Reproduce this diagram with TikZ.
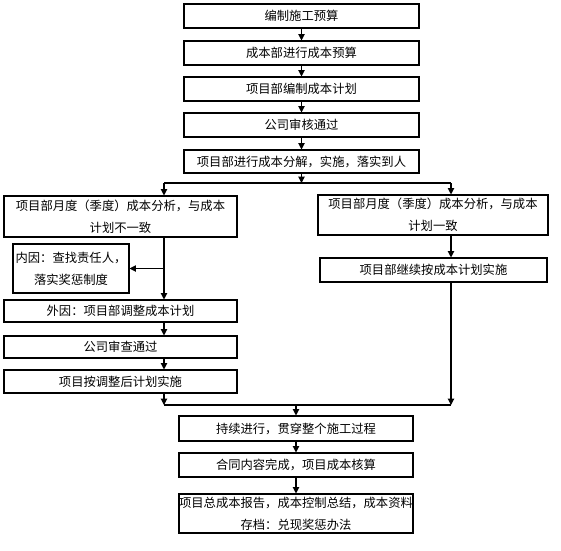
\documentclass[tikz,border=0pt]{standalone}
\usepackage{fontspec}
\newfontfamily\cjk{Noto Sans CJK SC}
\usetikzlibrary{arrows.meta, positioning, calc}

\begin{document}
\begin{tikzpicture}[
    x=0.03cm, y=-0.03cm,
    box/.style={draw, line width=0.9pt, fill=white, inner sep=1pt,
                minimum width=7.05cm, minimum height=0.72cm, align=center,
                font=\cjk\fontsize{10.5}{19}\selectfont},
    arr/.style={-{Triangle[length=5.5pt, width=5.5pt]}, line width=0.9pt},
    ln/.style={line width=0.9pt}
  ]
  \useasboundingbox (0,0) rectangle (561,550);
  \fill[white] (0,0) rectangle (561,550);

  % main column
  \node[box] (yusuan)  at (301.5,16)  {编制施工预算};
  \node[box] (chengben) at (301.5,53) {成本部进行成本预算};
  \node[box] (jihua)   at (301.5,89)  {项目部编制成本计划};
  \node[box] (shenhe)  at (301.5,125) {公司审核通过};
  \node[box, minimum height=0.69cm] (fenjie) at (301.5,161.5)
    {项目部进行成本分解，实施，落实到人};

  % left branch
  \node[box, minimum width=6.99cm, minimum height=1.23cm] (buyizhi) at (120.5,216.5)
    {项目部月度（季度）成本分析，与成本\\计划不一致};
  \node[box, minimum width=3.48cm, minimum height=1.47cm] (neiyin) at (71,268.5)
    {内因：查找责任人，\\落实奖惩制度};
  \node[box, minimum width=6.99cm, minimum height=0.66cm] (waiyin) at (120.5,311)
    {外因：项目部调整成本计划};
  \node[box, minimum width=6.99cm, minimum height=0.66cm] (shencha) at (120.5,347)
    {公司审查通过};
  \node[box, minimum width=6.99cm, minimum height=0.69cm] (tiaozheng) at (120.5,381.5)
    {项目按调整后计划实施};

  % right branch
  \node[box, minimum width=6.9cm, minimum height=1.2cm] (yizhi) at (433,215)
    {项目部月度（季度）成本分析，与成本\\计划一致};
  \node[box, minimum width=6.81cm] (jixu) at (433.5,270)
    {项目部继续按成本计划实施};

  % bottom column
  \node[box, minimum width=7.02cm, minimum height=0.75cm] (guancuan) at (296,428.5)
    {持续进行，贯穿整个施工过程};
  \node[box, minimum width=7.02cm] (hesuan) at (296,465)
    {合同内容完成，项目成本核算};
  \node[box, minimum width=7.02cm, minimum height=1.17cm, inner sep=0pt] (baogao) at (296,513.5)
    {项目总成本报告，成本控制总结，成本资料\\存档：兑现奖惩办法};

  \coordinate (fen)  at (301.5,183);
  \coordinate (fenL) at (164,183);
  \coordinate (fenR) at (451,183);
  \coordinate (heL)  at (164,405);
  \coordinate (heR)  at (451,405);
  \coordinate (he)   at (296,405);

  \draw[arr] (yusuan) -- (chengben);
  \draw[arr] (chengben) -- (jihua);
  \draw[arr] (jihua) -- (shenhe);
  \draw[arr] (shenhe) -- (fenjie);
  \draw[arr] (fenjie) -- (fen);
  \draw[ln] (fenL) -- (fenR);
  \draw[arr] (fenL) -- (fenL |- buyizhi.north);
  \draw[arr] (fenR) -- (fenR |- yizhi.north);

  \draw[arr] (fenL |- buyizhi.south) -- (fenL |- waiyin.north);
  \draw[arr] (fenL |- neiyin.east) -- (neiyin.east);
  \draw[arr] (fenL |- waiyin.south) -- (fenL |- shencha.north);
  \draw[arr] (fenL |- shencha.south) -- (fenL |- tiaozheng.north);
  \draw[arr] (fenL |- tiaozheng.south) -- (heL);

  \draw[arr] (fenR |- yizhi.south) -- (fenR |- jixu.north);
  \draw[arr] (fenR |- jixu.south) -- (heR);
  \draw[ln] (heL) -- (heR);

  \draw[arr] (he) -- (guancuan);
  \draw[arr] (guancuan) -- (hesuan);
  \draw[arr] (hesuan) -- (baogao);
\end{tikzpicture}
\end{document}
